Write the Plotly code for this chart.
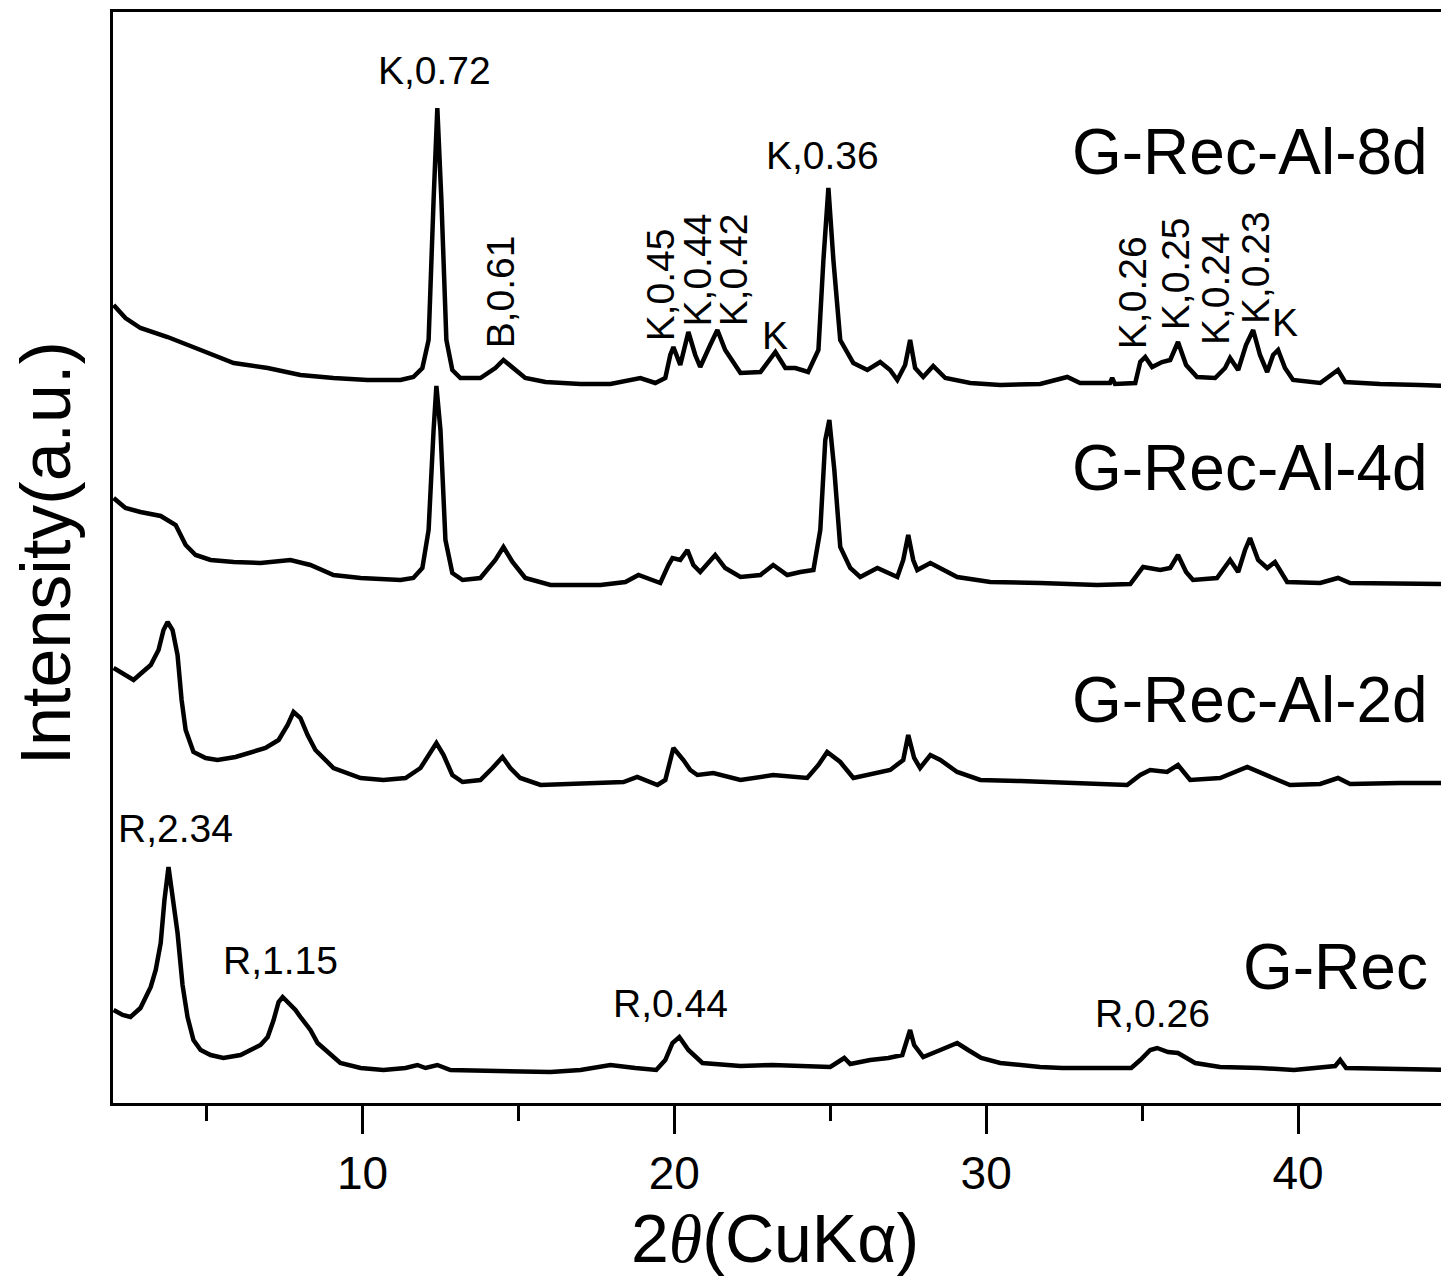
import plotly.graph_objects as go

# ---- data: 2theta (deg) and intensity (a.u., stacked) ----
tt_8d = [2.02, 2.40, 2.88, 3.75, 4.81, 5.87, 6.96, 8.01, 9.07, 10.16, 11.22, 11.63, 11.92, 12.12, 12.28, 12.40,
         12.53, 12.69, 12.88, 13.14, 13.78, 14.26, 14.52, 14.81, 15.22, 15.87, 16.99, 17.95, 18.59, 18.91, 19.39,
         19.71, 19.87, 19.97, 20.19, 20.45, 20.67, 20.83, 21.15, 21.38, 21.63, 22.12, 22.76, 23.24, 23.56, 23.88,
         24.29, 24.62, 24.78, 24.94, 25.10, 25.32, 25.74, 26.19, 26.60, 26.92, 27.15, 27.40, 27.56, 27.72, 27.98,
         28.30, 28.69, 29.49, 30.45, 31.73, 32.60, 33.01, 33.97, 34.04, 34.13, 34.78, 34.94, 35.10, 35.32, 35.64,
         35.90, 36.15, 36.41, 36.76, 37.34, 37.66, 37.82, 38.08, 38.33, 38.56, 38.78, 39.01, 39.20, 39.36, 39.58,
         39.84, 40.71, 41.28, 41.51, 42.63, 43.91, 44.84]
i_8d = [798, 785, 775, 766, 753, 740, 735, 728, 725, 723, 723, 726, 735, 763, 903, 995,
        903, 763, 733, 725, 725, 735, 743, 735, 725, 721, 719, 719, 723, 725, 720,
        725, 748, 756, 738, 771, 748, 736, 758, 773, 753, 730, 731, 751, 735, 735,
        731, 753, 843, 915, 843, 763, 740, 733, 741, 733, 723, 738, 763, 735, 726,
        737, 725, 720, 718, 719, 726, 720, 720, 725, 719, 720, 741, 746, 736, 741,
        743, 761, 738, 726, 725, 735, 745, 733, 758, 773, 748, 731, 748, 753, 735,
        723, 720, 733, 721, 719, 718, 717]

tt_4d = [2.02, 2.40, 2.88, 3.53, 4.01, 4.33, 4.65, 5.13, 5.87, 6.73, 7.69, 8.33, 9.07, 9.94, 11.22, 11.63,
         11.92, 12.12, 12.28, 12.37, 12.50, 12.66, 12.88, 13.21, 13.78, 14.26, 14.52, 14.81, 15.22, 16.03, 17.63,
         18.43, 18.85, 19.55, 19.81, 19.94, 20.19, 20.42, 20.61, 20.83, 21.31, 21.63, 22.12, 22.76, 23.17, 23.62,
         24.04, 24.46, 24.68, 24.84, 24.97, 25.13, 25.32, 25.64, 25.96, 26.51, 27.15, 27.34, 27.50, 27.66, 27.79,
         28.21, 29.07, 30.13, 31.73, 33.56, 34.62, 34.84, 35.03, 35.58, 35.90, 36.15, 36.41, 36.63, 37.40, 37.82,
         38.08, 38.30, 38.46, 38.72, 39.01, 39.26, 39.65, 40.71, 41.28, 41.67, 43.27, 44.84]
i_4d = [605, 595, 591, 587, 578, 558, 548, 543, 541, 540, 543, 538, 528, 525, 523, 525,
        535, 573, 673, 717, 673, 563, 530, 523, 525, 543, 556, 541, 525, 518, 518,
        521, 528, 520, 538, 545, 543, 553, 538, 531, 548, 535, 526, 528, 538, 528,
        531, 533, 573, 663, 683, 633, 556, 535, 526, 535, 526, 543, 568, 543, 533,
        540, 526, 521, 520, 518, 519, 528, 536, 533, 535, 548, 531, 523, 525, 543,
        531, 553, 565, 543, 535, 541, 521, 520, 525, 520, 520, 519]

tt_2d = [2.02, 2.40, 2.66, 2.95, 3.21, 3.46, 3.62, 3.75, 3.91, 4.07, 4.20, 4.33, 4.58, 4.97, 5.35, 5.93,
         6.41, 6.89, 7.31, 7.60, 7.79, 8.01, 8.24, 8.49, 9.07, 9.94, 10.67, 11.38, 11.86, 12.18, 12.37, 12.60,
         12.88, 13.21, 13.78, 14.17, 14.49, 14.74, 15.06, 15.71, 16.99, 18.37, 18.81, 19.46, 19.71, 19.97, 20.29,
         20.51, 20.74, 21.25, 22.12, 23.17, 24.26, 24.62, 24.90, 25.32, 25.74, 26.28, 26.92, 27.34, 27.50, 27.69,
         27.88, 28.21, 28.53, 29.07, 29.81, 31.09, 33.01, 34.52, 34.94, 35.26, 35.80, 36.15, 36.54, 37.50, 38.37,
         38.78, 39.20, 39.74, 40.71, 41.28, 41.67, 43.27, 44.84]
i_2d = [435, 428, 423, 431, 438, 453, 473, 481, 473, 448, 403, 373, 351, 345, 343, 346,
        350, 355, 363, 378, 391, 385, 368, 353, 335, 325, 323, 325, 335, 351, 360, 348,
        328, 321, 323, 335, 346, 335, 325, 318, 319, 321, 326, 318, 323, 355, 343,
        333, 328, 330, 323, 328, 325, 338, 351, 341, 325, 329, 333, 343, 368, 345,
        335, 348, 343, 331, 323, 322, 320, 318, 328, 333, 331, 338, 323, 325, 336,
        331, 325, 318, 319, 325, 319, 320, 320]

tt_rec = [2.02, 2.31, 2.56, 2.88, 3.21, 3.37, 3.53, 3.65, 3.78, 3.91, 4.07, 4.23, 4.39, 4.58, 4.81, 5.13,
          5.54, 6.09, 6.41, 6.73, 6.96, 7.15, 7.31, 7.44, 7.63, 7.85, 8.01, 8.33, 8.56, 8.97, 9.29, 9.94,
          10.67, 11.38, 11.76, 12.02, 12.40, 12.82, 14.42, 16.03, 16.99, 17.95, 18.75, 19.42, 19.71, 19.94, 20.16,
          20.45, 20.90, 22.12, 23.14, 24.36, 25.00, 25.45, 25.64, 26.28, 26.86, 27.31, 27.44, 27.56, 27.69, 27.98,
          28.53, 29.07, 29.42, 29.84, 30.45, 31.73, 32.44, 33.65, 34.65, 34.94, 35.26, 35.48, 35.83, 36.15, 36.70,
          37.50, 38.78, 39.87, 41.19, 41.35, 41.54, 43.27, 44.84]
i_rec = [93, 88, 86, 95, 116, 133, 160, 203, 236, 208, 170, 118, 86, 63, 53, 48,
         45, 48, 53, 58, 66, 83, 101, 106, 100, 93, 86, 73, 60, 48, 40, 35,
         33, 35, 38, 35, 38, 33, 32, 31, 33, 38, 35, 33, 43, 60, 66,
         53, 40, 37, 38, 36, 36, 45, 39, 43, 45, 48, 63, 73, 58, 46,
         53, 60, 53, 45, 40, 36, 35, 35, 35, 43, 53, 55, 51, 50, 40,
         36, 35, 33, 37, 43, 35, 34, 33]

series_labels = ["G-Rec-Al-8d", "G-Rec-Al-4d", "G-Rec-Al-2d", "G-Rec"]
series_label_y = [951, 635, 403, 136]

# peak annotations: text, 2theta, height, rotated?
peak_text = ["K,0.72", "B,0.61", "K,0.45", "K,0.44", "K,0.42", "K", "K,0.36",
             "K,0.26", "K,0.25", "K,0.24", "K,0.23", "K",
             "R,2.34", "R,1.15", "R,0.44", "R,0.26"]
peak_x = [12.31, 14.42, 19.55, 20.74, 21.89, 23.24, 24.74,
          34.68, 36.06, 37.34, 38.62, 39.58,
          4.01, 7.37, 19.87, 35.32]
peak_y = [1033, 811, 818, 833, 833, 768, 948,
          810, 829, 814, 835, 781,
          275, 143, 100, 90]
peak_rot = [False, True, True, True, True, False, False,
            True, True, True, True, False,
            False, False, False, False]

FONT = "Liberation Sans, Arial, sans-serif"

fig = go.Figure()
for xs, ys, name in [(tt_8d, i_8d, series_labels[0]), (tt_4d, i_4d, series_labels[1]),
                     (tt_2d, i_2d, series_labels[2]), (tt_rec, i_rec, series_labels[3])]:
    fig.add_trace(go.Scatter(x=xs, y=ys, mode="lines", name=name,
                             line=dict(color="black", width=4.5), showlegend=False))

for t, yy in zip(series_labels, series_label_y):
    fig.add_annotation(x=44.23, y=yy, xref="x", yref="y", text=t, showarrow=False,
                       xanchor="right", yanchor="middle",
                       font=dict(family=FONT, size=64, color="black"))

for t, xx, yy, rot in zip(peak_text, peak_x, peak_y, peak_rot):
    fig.add_annotation(x=xx, y=yy, xref="x", yref="y", text=t, showarrow=False,
                       xanchor="center", yanchor="middle", textangle=-90 if rot else 0,
                       font=dict(family=FONT, size=39, color="black"))

# axis titles
fig.add_annotation(x=0.4955, y=-0.124, xref="paper", yref="paper",
                   text="2<span style='font-family:Liberation Serif'><i>θ</i></span>(CuKα)",
                   showarrow=False, xanchor="center", yanchor="middle",
                   font=dict(family=FONT, size=68, color="black"))
fig.add_annotation(x=-0.050, y=0.504, xref="paper", yref="paper", text="Intensity(a.u.)",
                   showarrow=False, xanchor="center", yanchor="middle", textangle=-90,
                   font=dict(family=FONT, size=70, color="black"))

# page body has an 8px default margin, so the figure is drawn 8px smaller and shifted
fig.update_layout(
    width=1441, height=1268,
    margin=dict(l=105, r=0, t=4, b=173),
    plot_bgcolor="white", paper_bgcolor="white",
    xaxis=dict(range=[2.0, 44.84], showgrid=False, zeroline=False,
               showline=True, linecolor="black", linewidth=3, mirror=True,
               ticks="outside", ticklen=28, tickwidth=3, tickcolor="black",
               tick0=0, dtick=10,
               minor=dict(ticks="outside", tick0=5, dtick=10, ticklen=15, tickwidth=3, tickcolor="black"),
               tickfont=dict(family=FONT, size=46, color="black")),
    yaxis=dict(range=[0, 1091], showgrid=False, zeroline=False,
               showline=True, linecolor="black", linewidth=3, mirror=False,
               showticklabels=False, ticks=""),
)

fig.write_html("out.html")
